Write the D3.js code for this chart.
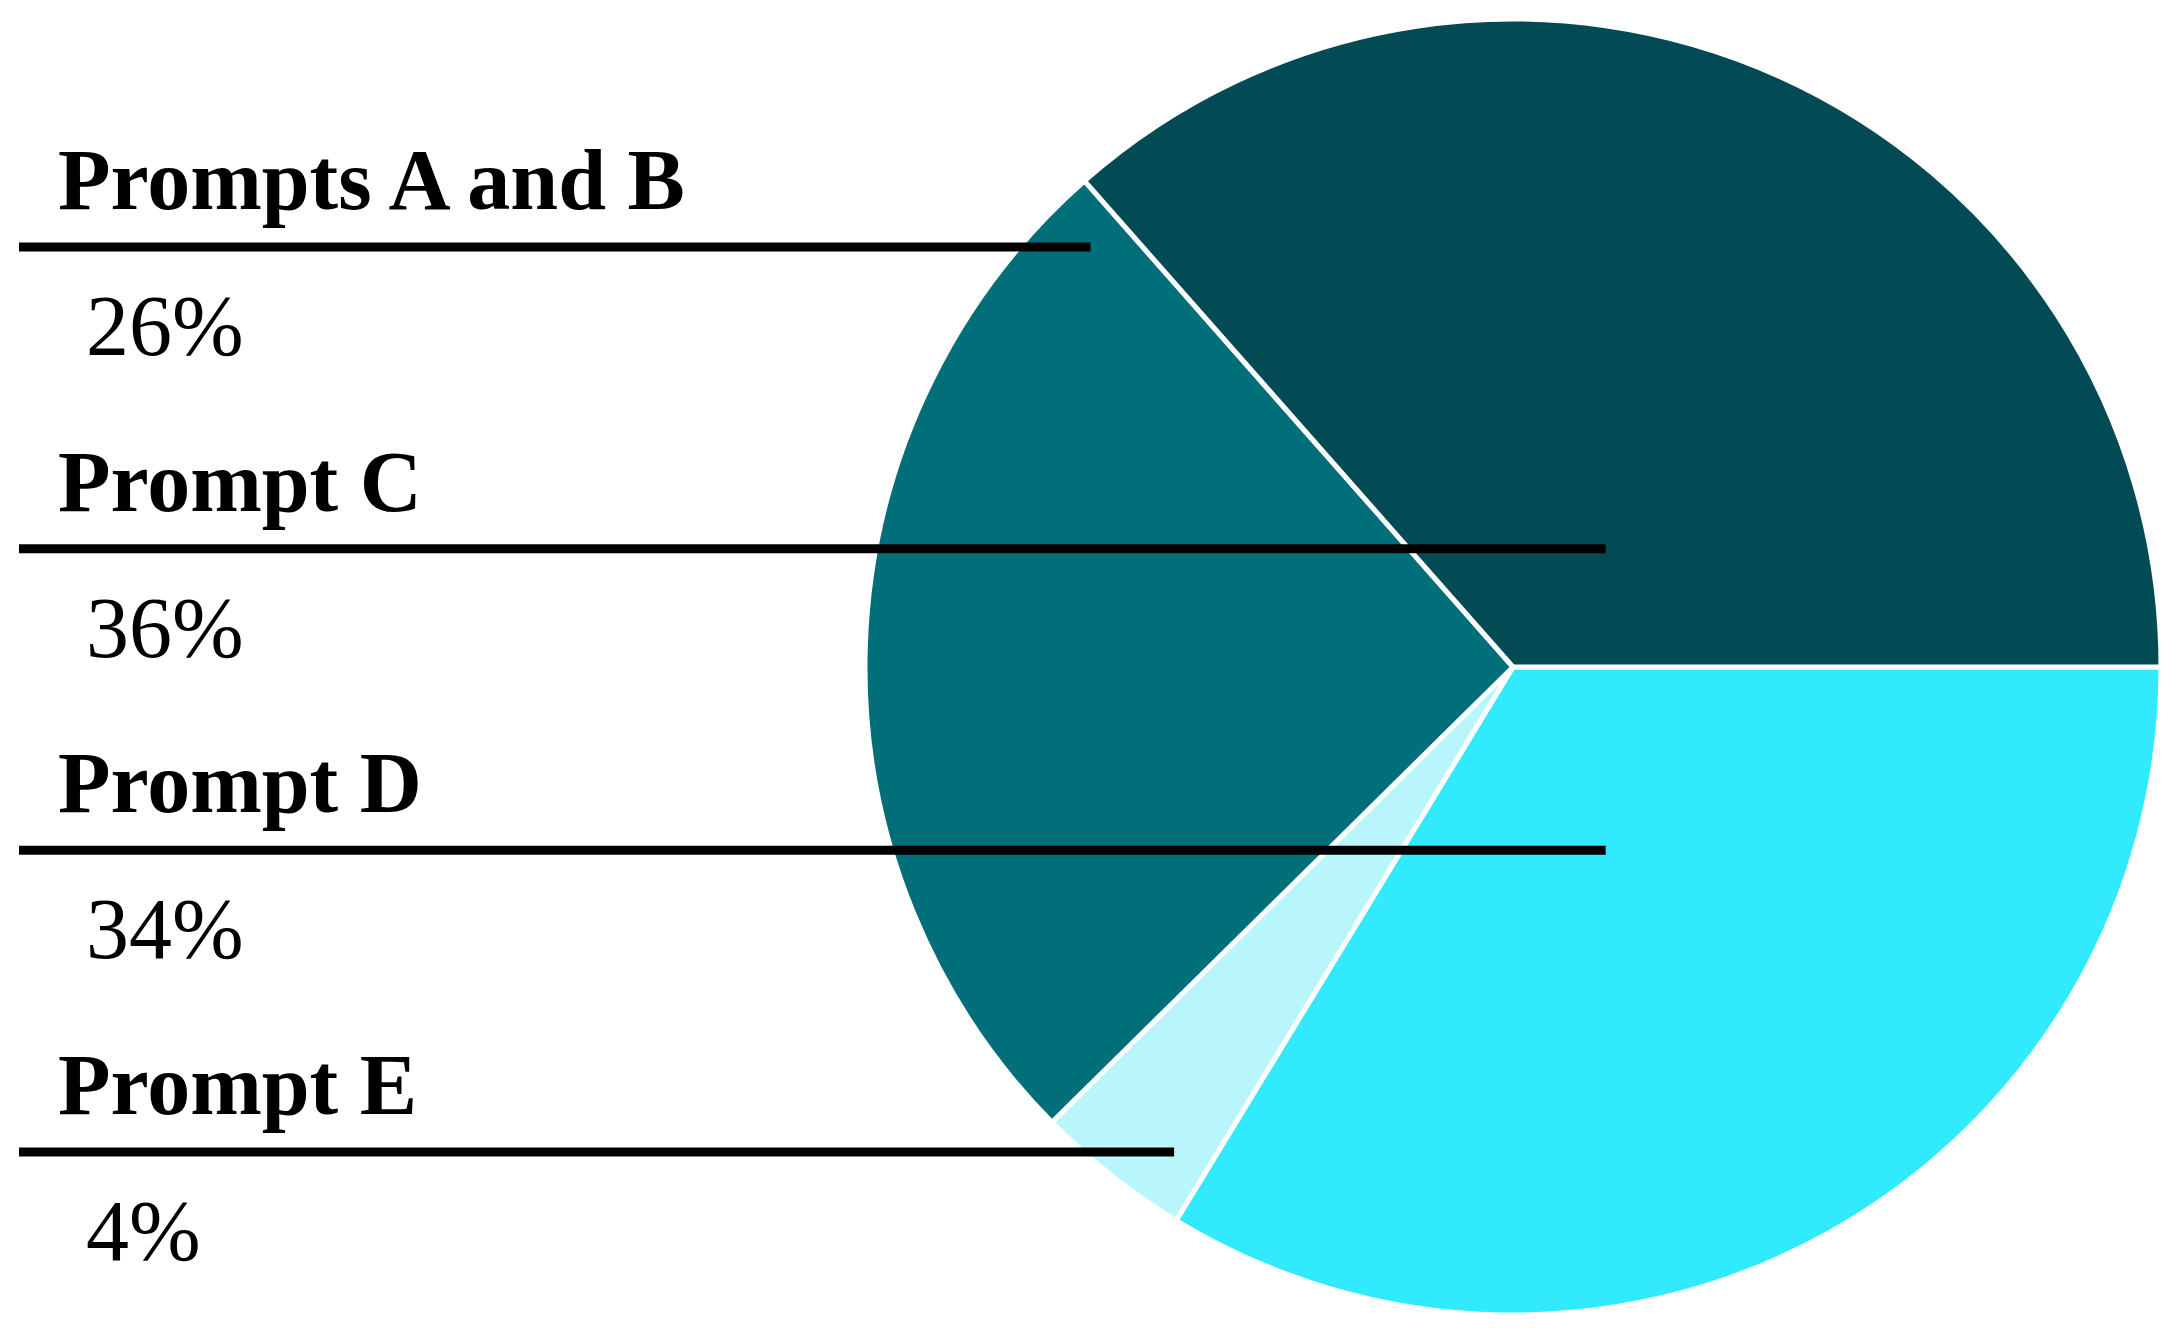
<!DOCTYPE html>
<html>
<head>
<meta charset="utf-8">
<script src="https://cdn.jsdelivr.net/npm/d3@7/dist/d3.min.js"></script>
<style>
  body { margin: 0; background: #fff; }
  svg { display: block; }
</style>
</head>
<body>
<div id="chart"></div>
<script>
// slices, clockwise from 3 o'clock (sizes as drawn, labels show them rounded)
const sliceNames= ['Prompt D', 'Prompt E', 'Prompts A and B', 'Prompt C'];
const sliceValues= [33.7, 3.9, 25.9, 36.5];
const sliceColors= ['#31EAFD', '#B9F6FB', '#016F7A', '#034B54'];

// label rows, top to bottom
const labelNames= ['Prompts A and B', 'Prompt C', 'Prompt D', 'Prompt E'];
const labelValues= [26, 36, 34, 4];

const W= 2177, H= 1331;
const cx= 1513, cy= 667, R= 648;
// where each leader line stops, as a fraction of R from the pie centre
const leaderEnd= [-0.652, 0.143, 0.143, -0.523];

const svg= d3.select('#chart').append('svg')
  .attr('width', W).attr('height', H);

const pie= d3.pie().sort(null)
  .startAngle(Math.PI/2).endAngle(Math.PI/2 + 2*Math.PI);
const arc= d3.arc().innerRadius(0).outerRadius(R);

const color= d3.scaleOrdinal().domain(sliceNames).range(sliceColors);

const g= svg.append('g').attr('transform', `translate(${cx},${cy})`);
g.selectAll('path')
  .data(pie(sliceValues))
  .join('path')
  .attr('d', arc)
  .attr('fill', (d, i) => color(sliceNames[i]))
  .attr('stroke', '#fff')
  .attr('stroke-width', 5)
  .attr('stroke-linejoin', 'round');

const rowY= d3.scaleLinear().domain([0, labelNames.length-1]).range([247, 1152]);
const fmt= d => `${d}%`;

const rows= svg.append('g').selectAll('g')
  .data(labelNames)
  .join('g')
  .attr('transform', (d, i) => `translate(0,${rowY(i)})`);

rows.append('text')
  .attr('x', 58).attr('y', -38)
  .attr('font-family', '"Liberation Serif", "Times New Roman", serif')
  .attr('font-weight', 'bold')
  .attr('font-size', 86)
  .attr('fill', '#000')
  .text(d => d);

rows.append('line')
  .attr('x1', 19)
  .attr('x2', (d, i) => cx + leaderEnd[i]*R)
  .attr('y1', 0).attr('y2', 0)
  .attr('stroke', '#000')
  .attr('stroke-width', 9);

rows.append('text')
  .attr('x', 86).attr('y', 108)
  .attr('font-family', '"Liberation Serif", "Times New Roman", serif')
  .attr('font-size', 86)
  .attr('fill', '#000')
  .text((d, i) => fmt(labelValues[i]));
</script>
</body>
</html>
